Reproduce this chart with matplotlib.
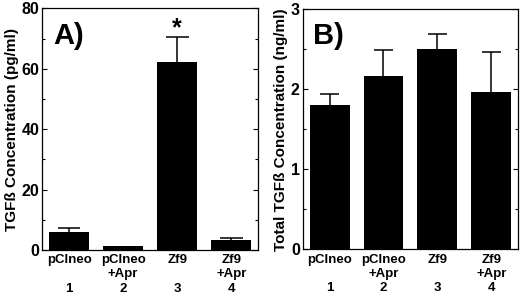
import matplotlib
matplotlib.use("Agg")
import matplotlib.pyplot as plt
from matplotlib.ticker import MultipleLocator

plt.rcParams['font.family'] = ['Liberation Sans', 'DejaVu Sans']
plt.rcParams['font.weight'] = 'bold'

categories = ["pClneo", "pClneo\n+Apr", "Zf9", "Zf9\n+Apr"]
lane_numbers = ["1", "2", "3", "4"]

active_values = [5.9, 1.2, 62.2, 3.2]
active_err = [1.3, 0.0, 8.4, 0.7]

total_values = [1.81, 2.16, 2.50, 1.97]
total_err = [0.13, 0.33, 0.19, 0.49]

fig = plt.figure(figsize=(5.2, 2.99), dpi=100)
axA = fig.add_axes([0.0808, 0.164, 0.416, 0.808])
axB = fig.add_axes([0.582, 0.166, 0.4146, 0.803])

def labels():
    out = []
    for c, n in zip(categories, lane_numbers):
        if "\n" not in c:
            c = c + "\n "
        out.append(c + "\n" + n)
    return out

def style(ax, vals, errs, ylim, major, minor, ylabel, tag, capw):
    x = list(range(1, len(vals) + 1))
    tops = [v + e for v, e in zip(vals, errs)]
    ax.vlines(x, vals, tops, color='black', linewidth=1.1, zorder=1)
    ax.hlines([t for t, e in zip(tops, errs) if e > 0],
              [xi - capw for xi, e in zip(x, errs) if e > 0],
              [xi + capw for xi, e in zip(x, errs) if e > 0],
              color='black', linewidth=1.1, zorder=1)
    ax.bar(x, vals, width=0.74, color='black', zorder=2)
    ax.set_xlim(0.5, 4.5)
    ax.set_ylim(*ylim)
    ax.yaxis.set_major_locator(MultipleLocator(major))
    ax.yaxis.set_minor_locator(MultipleLocator(minor))
    ax.tick_params(axis='y', which='both', direction='in', left=True, right=True,
                   labelsize=11.5, pad=2)
    ax.tick_params(axis='y', which='major', length=3.5, width=0.8)
    ax.tick_params(axis='y', which='minor', length=2.5, width=0.8)
    ax.set_xticks(x)
    ax.set_xticklabels(labels(), fontsize=9.5, fontweight='bold', linespacing=1.25)
    ax.tick_params(axis='x', length=0, pad=3)
    for s in ax.spines.values():
        s.set_linewidth(0.9)
    ax.set_ylabel(ylabel, fontsize=11, fontweight='bold', labelpad=2)
    ax.text(0.05, 0.945, tag, transform=ax.transAxes, fontsize=21,
            fontweight='bold', va='top', ha='left')

style(axA, active_values, active_err, (0, 80), 20, 10,
      "TGFß Concentration (pg/ml)", "A)", 0.21)
style(axB, total_values, total_err, (0, 3), 1, 0.5,
      "Total TGFß Concentration (ng/ml)", "B)", 0.18)

axA.text(3, active_values[2] + active_err[2] + 2.8, "*", ha='center', va='center',
         fontsize=18, fontweight='bold')

fig.savefig("out.png", dpi=100)
